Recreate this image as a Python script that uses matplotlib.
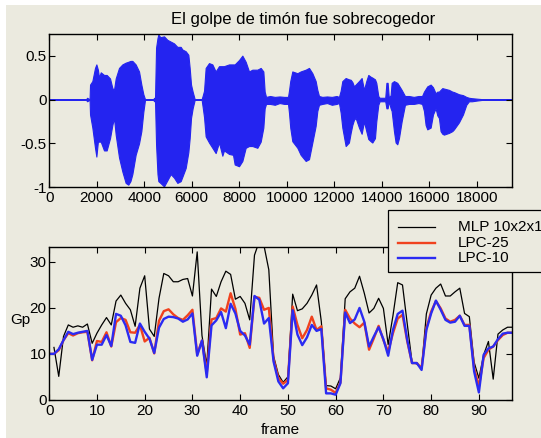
import numpy as np
import matplotlib
matplotlib.use("Agg")
import matplotlib.pyplot as plt
from matplotlib.patches import Rectangle
from matplotlib.lines import Line2D

plt.rcParams['font.family'] = ['Liberation Sans', 'DejaVu Sans']
plt.rcParams['axes.unicode_minus'] = False

W, H = 541, 438
BG = '#EBEADF'
WAVE_BLUE = '#2424F0'

# envelope of the speech waveform (sample index, upper, lower)
wave_t = [0, 1550, 1600, 1680, 1700, 1720, 1817, 1929, 1986, 2050, 2098, 2170, 2308, 2420,
          2561, 2660, 2729, 2800, 2940, 3080, 3220, 3330, 3420, 3501, 3640, 3782, 3880, 3964,
          4034, 4380, 4420, 4440, 4455, 4500, 4560, 4596, 4680, 4835, 4975, 5115, 5255, 5396,
          5536, 5607, 5747, 5859, 5915, 5972, 6040, 6126, 6420, 6470, 6520, 6588, 6729, 6870,
          7009, 7150, 7290, 7360, 7571, 7740, 7810, 7992, 8133, 8273, 8413, 8554, 8764, 8905,
          9017, 9073, 9130, 9300, 9500, 9700, 9900, 10056, 10097, 10150, 10237, 10450, 10588,
          10800, 10939, 11080, 11220, 11290, 11360, 11500, 11700, 11900, 12100, 12202, 12273,
          12343, 12483, 12620, 12694, 12764, 12834, 12904, 13044, 13156, 13254, 13352, 13436,
          13535, 13605, 13717, 13773, 13857, 13913, 14150, 14200, 14250, 14300, 14377, 14420,
          14517, 14587, 14657, 14727, 14840, 14980, 15150, 15350, 15550, 15700, 15780, 15850,
          15920, 16061, 16160, 16271, 16341, 16411, 16480, 16552, 16622, 16833, 16973, 17043,
          17253, 17422, 17562, 17674, 17800, 18000, 18235, 19500]
wave_hi = [0.004, 0.004, 0.02, 0.004, 0.004, 0.17, 0.21, 0.36, 0.40, 0.34, 0.25, 0.31, 0.28, 0.28,
           0.24, 0.13, 0.11, 0.24, 0.36, 0.40, 0.42, 0.43, 0.44, 0.44, 0.40, 0.32, 0.17, 0.06,
           0.004, 0.004, 0.02, 0.004, 0.004, 0.59, 0.70, 0.74, 0.71, 0.72, 0.68, 0.66, 0.64, 0.60,
           0.60, 0.57, 0.55, 0.51, 0.36, 0.17, 0.09, 0.004, 0.004, 0.05, 0.10, 0.36, 0.415, 0.40,
           0.32, 0.38, 0.38, 0.38, 0.40, 0.40, 0.40, 0.45, 0.50, 0.43, 0.32, 0.34, 0.34, 0.36,
           0.32, 0.09, 0.03, 0.04, 0.03, 0.035, 0.03, 0.03, 0.10, 0.21, 0.32, 0.30, 0.32,
           0.34, 0.36, 0.30, 0.21, 0.11, 0.04, 0.03, 0.035, 0.03, 0.04, 0.03, 0.10,
           0.21, 0.245, 0.23, 0.225, 0.20, 0.15, 0.17, 0.21, 0.245, 0.11, 0.21, 0.28,
           0.26, 0.25, 0.23, 0.19, 0.04, 0.02, 0.02, 0.19, 0.19, 0.02, 0.05, 0.19,
           0.21, 0.20, 0.19, 0.16, 0.11, 0.04, 0.04, 0.03, 0.04, 0.04, 0.09, 0.12,
           0.15, 0.17, 0.14, 0.07, 0.09, 0.09, 0.11, 0.13, 0.125, 0.11, 0.09, 0.085,
           0.06, 0.05, 0.03, 0.02, 0.015, 0.01, 0.004, 0.004]
wave_lo = [-0.004, -0.004, -0.02, -0.004, -0.004, -0.17, -0.32, -0.55, -0.65, -0.48, -0.48, -0.48, -0.58, -0.58,
           -0.44, -0.29, -0.21, -0.40, -0.66, -0.82, -0.95, -0.97, -0.93, -0.85, -0.63, -0.50, -0.36, -0.14,
           -0.004, -0.004, -0.02, -0.004, -0.004, -0.51, -0.85, -0.93, -0.95, -0.99, -0.92, -0.85, -0.89, -0.95,
           -0.93, -0.88, -0.78, -0.60, -0.44, -0.21, -0.10, -0.004, -0.004, -0.10, -0.20, -0.42, -0.49, -0.55,
           -0.61, -0.49, -0.64, -0.58, -0.62, -0.63, -0.74, -0.76, -0.70, -0.55, -0.53, -0.53, -0.55, -0.48,
           -0.32, -0.10, -0.05, -0.05, -0.06, -0.04, -0.05, -0.05, -0.15, -0.32, -0.475, -0.55, -0.63,
           -0.70, -0.68, -0.49, -0.30, -0.13, -0.06, -0.05, -0.04, -0.06, -0.05, -0.04, -0.15,
           -0.32, -0.53, -0.49, -0.38, -0.29, -0.23, -0.21, -0.32, -0.39, -0.25, -0.36, -0.45,
           -0.475, -0.49, -0.44, -0.25, -0.06, -0.02, -0.02, -0.10, -0.10, -0.02, -0.10, -0.13,
           -0.36, -0.49, -0.51, -0.44, -0.25, -0.06, -0.05, -0.05, -0.04, -0.05, -0.13, -0.29,
           -0.34, -0.32, -0.17, -0.10, -0.18, -0.21, -0.36, -0.39, -0.40, -0.38, -0.36, -0.34,
           -0.26, -0.17, -0.06, -0.02, -0.02, -0.012, -0.004, -0.004]

# prediction gain per frame
frames = np.arange(98)
gp_mlp = [np.nan, 11.4, 5.1, 13.8, 16.3, 15.8, 16.1, 15.8, 16.5, 12.3,
          14.5, 16.3, 17.9, 16.3, 21.5, 22.8, 21.0, 19.6, 16.0, 24.3,
          27.0, 15.4, 13.8, 22.1, 27.5, 27.0, 25.7, 25.7, 26.2, 26.4,
          22.6, 32.2, 14.0, 7.5, 24.1, 22.5, 25.7, 28.0, 27.3, 21.9,
          22.5, 21.0, 17.4, 31.5, 34.5, 33.5, 28.3, 9.5, 5.5, 3.8,
          5.0, 23.0, 19.4, 19.8, 21.0, 22.8, 25.0, 17.0, 3.1, 3.0,
          2.4, 4.8, 22.0, 23.5, 24.3, 26.9, 23.2, 18.9, 19.9, 22.1,
          19.9, 12.0, 18.3, 25.5, 25.0, 16.5, 8.2, 7.8, 6.9, 18.7,
          22.8, 24.3, 25.2, 22.6, 22.6, 23.5, 24.3, 18.8, 18.1, 8.2,
          4.7, 9.8, 12.7, 4.5, 14.3, 15.2, 15.8, 15.8]
gp_lpc25 = [10.0, 10.0, 10.8, 13.0, 14.5, 14.0, 14.5, 14.7, 14.8, 8.6,
            12.8, 12.6, 14.7, 11.6, 16.9, 17.8, 17.4, 14.7, 14.6, 16.3,
            12.7, 13.5, 10.1, 17.2, 19.3, 19.7, 18.6, 17.8, 17.4, 18.4,
            19.6, 9.9, 12.9, 5.8, 17.5, 17.8, 19.9, 19.2, 23.2, 19.8,
            14.2, 14.5, 11.3, 22.4, 22.2, 19.6, 20.0, 8.8, 4.7, 3.5,
            4.3, 20.3, 16.3, 13.4, 15.2, 18.1, 15.2, 16.0, 2.5, 2.2,
            1.5, 3.8, 19.6, 17.7, 16.6, 15.8, 16.8, 10.9, 13.4, 16.1,
            13.0, 10.5, 14.5, 17.7, 18.5, 12.7, 8.0, 8.0, 6.9, 15.6,
            19.2, 21.5, 19.9, 17.7, 17.0, 17.4, 18.3, 16.3, 16.3, 6.9,
            2.9, 9.1, 10.9, 11.6, 13.0, 14.1, 14.6, 14.6]
gp_lpc10 = [10.0, 10.0, 11.0, 13.0, 14.8, 14.3, 14.6, 14.8, 15.0, 8.7,
            12.0, 12.0, 14.1, 11.7, 18.7, 18.3, 16.2, 12.6, 12.4, 16.6,
            14.8, 13.3, 10.2, 15.7, 17.6, 18.1, 18.0, 17.7, 17.0, 17.5,
            18.8, 9.6, 12.9, 4.9, 16.2, 17.3, 19.1, 15.6, 20.9, 18.8,
            15.0, 14.0, 12.0, 22.6, 21.8, 16.6, 17.8, 8.3, 4.0, 2.5,
            3.6, 19.5, 14.2, 11.9, 13.6, 16.3, 15.0, 15.4, 1.4, 1.4,
            1.1, 3.6, 19.0, 16.7, 17.5, 20.0, 17.0, 11.6, 13.8, 15.8,
            13.2, 9.6, 15.2, 18.7, 19.4, 13.0, 8.0, 8.0, 6.5, 15.2,
            18.8, 21.6, 19.6, 17.4, 16.8, 17.0, 18.3, 16.1, 16.1, 6.2,
            1.6, 9.8, 11.2, 11.6, 13.2, 14.4, 14.6, 14.6]

series_labels = ['MLP 10x2x1', 'LPC-25', 'LPC-10']
series_colors = ['black', '#F0421E', '#2B2BF2']
series_widths = [0.9, 1.7, 1.7]


def fx(px):
    return px / W


def fy(py):
    return 1 - py / H


def style_axes(ax):
    ax.set_facecolor(BG)
    for s in ax.spines.values():
        s.set_linewidth(1.0)
    ax.tick_params(direction='in', length=4.5, width=0.8, top=True, right=True,
                   labelsize=11)
    ax.tick_params(axis='x', pad=3)
    ax.tick_params(axis='y', pad=2)


fig = plt.figure(figsize=(W / 100, H / 100), dpi=100)
fig.patch.set_facecolor('white')
fig.add_artist(Rectangle((fx(6), 0), 1, fy(5), transform=fig.transFigure,
                         facecolor=BG, edgecolor='none', zorder=-1))

# --- waveform ---
ax1 = fig.add_axes([fx(49.2), fy(187.3), fx(512.3 - 49.2), (187.3 - 33.7) / H])
style_axes(ax1)
ax1.fill_between(wave_t, wave_lo, wave_hi, facecolor=WAVE_BLUE, edgecolor=WAVE_BLUE,
                 linewidth=0.8)
ax1.set_xlim(0, 19500)
ax1.set_ylim(-1, 0.75)
ax1.set_xticks(np.arange(0, 18001, 2000))
ax1.set_yticks([-1, -0.5, 0, 0.5], ['-1', '-0.5', '0', '0.5'])
fig.text(fx(303), fy(24), 'El golpe de timón fue sobrecogedor', ha='center',
         va='baseline', fontsize=12)

# --- prediction gain ---
ax2 = fig.add_axes([fx(49.2), fy(399.8), fx(512.3 - 49.2), (399.8 - 247.3) / H])
style_axes(ax2)
for vals, lab, col, lw in zip([gp_mlp, gp_lpc25, gp_lpc10], series_labels,
                              series_colors, series_widths):
    ax2.plot(frames, vals, color=col, lw=lw, label=lab)
ax2.set_xlim(0, 97)
ax2.set_ylim(0, 33.2)
ax2.set_xticks(np.arange(0, 91, 10))
ax2.set_yticks([0, 10, 20, 30])
ax2.set_xlabel('frame', fontsize=11, va='top')
ax2.xaxis.set_label_coords(0.5, -0.155)
ax2.set_ylabel('Gp', fontsize=11, rotation=0, ha='center', va='center')
ax2.yaxis.set_label_coords(-0.063, 0.524)

# legend box drawn in figure pixels, spilling past the right edge
fig.add_artist(Rectangle((fx(388), fy(272)), fx(600 - 388), (272 - 210) / H,
                         transform=fig.transFigure, facecolor=BG, edgecolor='black',
                         linewidth=0.9, zorder=5))
for row_y, lab, col, lw in zip([227, 243, 257.5], series_labels, series_colors,
                               series_widths):
    fig.add_artist(Line2D([fx(398), fx(435)], [fy(row_y)] * 2, color=col, lw=lw,
                          transform=fig.transFigure, zorder=6))
    fig.text(fx(458), fy(row_y), lab, fontsize=11, va='center', ha='left', zorder=6)

fig.savefig('out.png', dpi=100)
